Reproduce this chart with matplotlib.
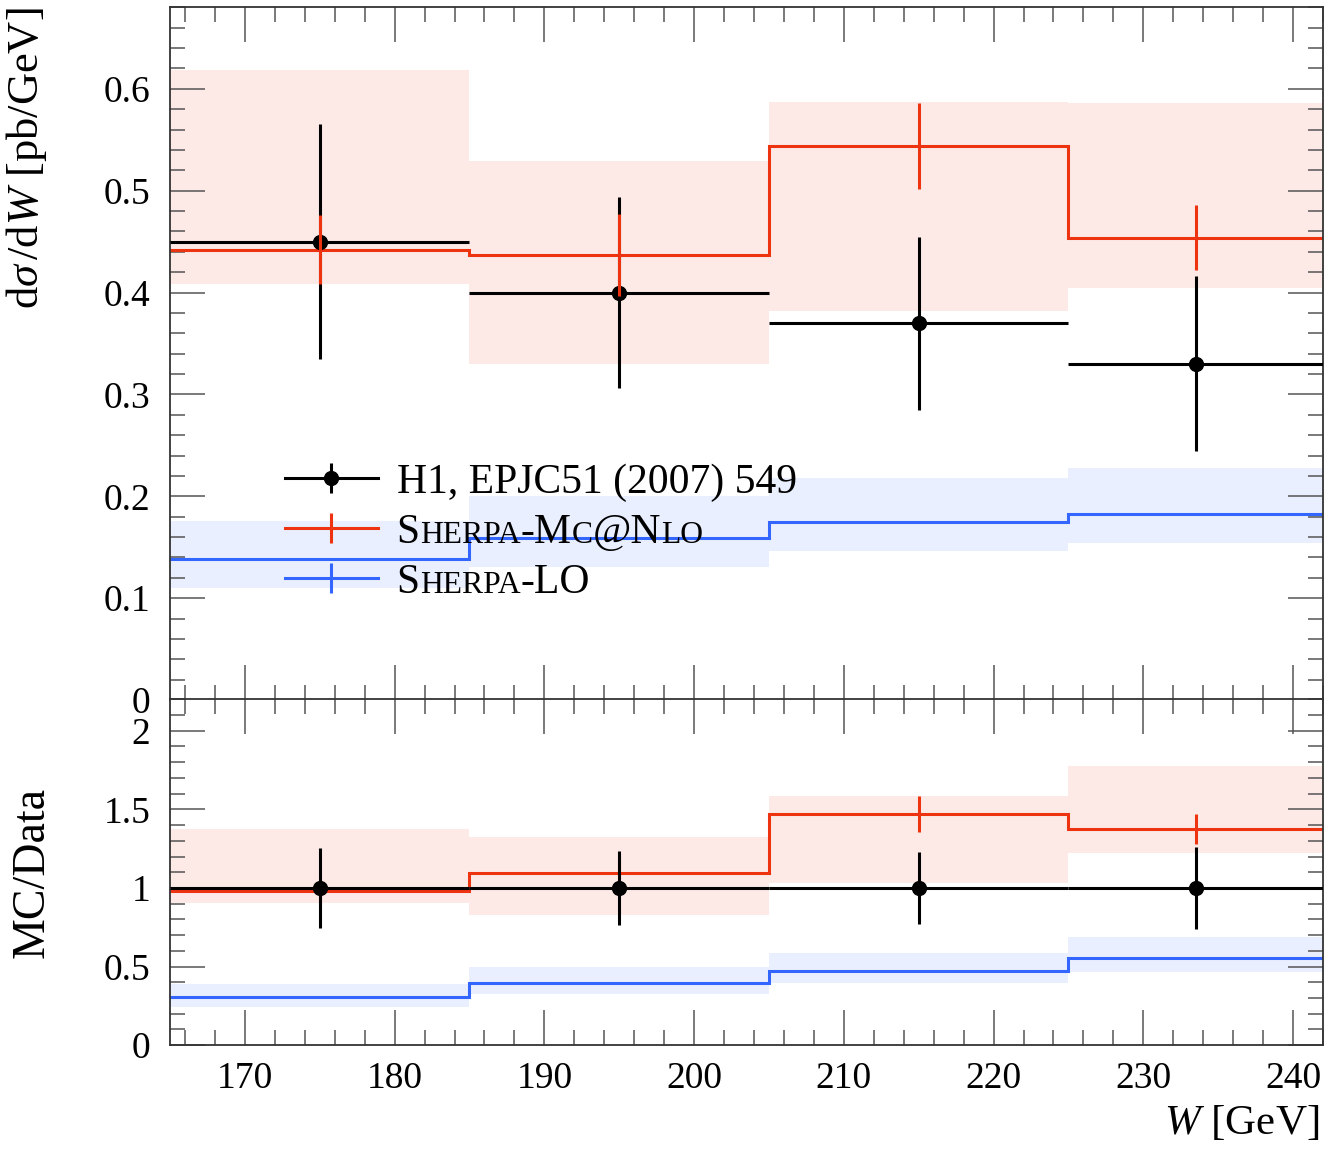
import matplotlib
matplotlib.use('Agg')
import matplotlib.pyplot as plt
import numpy as np
from matplotlib.lines import Line2D
from matplotlib.ticker import MultipleLocator, FixedLocator
from matplotlib.legend_handler import HandlerTuple

plt.rcParams['font.family'] = ['Liberation Serif', 'DejaVu Serif']
plt.rcParams['mathtext.fontset'] = 'custom'
plt.rcParams['mathtext.rm'] = 'Liberation Serif'
plt.rcParams['mathtext.it'] = 'Liberation Serif:italic'

# ---------------- data ----------------
bin_edges = [165, 185, 205, 225, 242]
x_centres = [175, 195, 215, 233.5]
data_y = [0.45, 0.40, 0.37, 0.33]
data_err = [0.115, 0.094, 0.085, 0.086]
nlo_y = [0.442, 0.437, 0.544, 0.454]
nlo_err = [0.034, 0.040, 0.042, 0.032]
nlo_band_lo = [0.408, 0.330, 0.382, 0.404]
nlo_band_hi = [0.618, 0.529, 0.587, 0.586]
lo_y = [0.138, 0.159, 0.175, 0.183]
lo_band_lo = [0.110, 0.131, 0.146, 0.154]
lo_band_hi = [0.176, 0.200, 0.218, 0.228]

main_yticks = [0, 0.1, 0.2, 0.3, 0.4, 0.5, 0.6]
main_yticklabels = ['0', '0.1', '0.2', '0.3', '0.4', '0.5', '0.6']
ratio_yticks = [0, 0.5, 1, 1.5, 2]
ratio_yticklabels = ['0', '0.5', '1', '1.5', '2']
xticks = [170, 180, 190, 200, 210, 220, 230, 240]
xticklabels = ['170', '180', '190', '200', '210', '220', '230', '240']

data_label = 'H1, EPJC51 (2007) 549'
nlo_pieces = [('S', False), ('HERPA', True), ('-M', False), ('C', True), ('@N', False), ('LO', True)]
lo_pieces = [('S', False), ('HERPA', True), ('-LO', False)]

RED = '#EE3311'
BLUE = '#3366FF'
BLACK = '#000000'

edges = np.array(bin_edges, dtype=float)
xc = np.array(x_centres)
xerr_lo = xc - edges[:-1]
xerr_hi = edges[1:] - xc
dy = np.array(data_y); de = np.array(data_err)
ny = np.array(nlo_y); ne = np.array(nlo_err)
nbl = np.array(nlo_band_lo); nbh = np.array(nlo_band_hi)
ly = np.array(lo_y); lbl = np.array(lo_band_lo); lbh = np.array(lo_band_hi)

W, H = 1328, 1149
fig = plt.figure(figsize=(W / 100, H / 100), dpi=100)
L = 170 / W
Rr = 1323 / W
ax = fig.add_axes([L, 1 - 700 / H, Rr - L, (700 - 7.3) / H])
axr = fig.add_axes([L, 1 - 1045.2 / H, Rr - L, (1045.2 - 699.3) / H])

LW = 2.2
FS = 27
for a in (ax, axr):
    a.set_xlim(bin_edges[0], bin_edges[-1])
    a.xaxis.set_major_locator(FixedLocator(xticks))
    a.xaxis.set_minor_locator(MultipleLocator(2))
    a.tick_params(which='both', direction='in', top=True, right=True,
                  color='#555555', width=1.1, labelsize=FS)
    a.tick_params(which='major', length=25)
    a.tick_params(which='minor', length=11)
    a.tick_params(axis='y', pad=14)
    a.tick_params(axis='x', pad=12)
    for s in a.spines.values():
        s.set_color('#333333')
        s.set_linewidth(1.3)

# ---------------- main panel ----------------
ax.set_ylim(0, 0.68)
ax.yaxis.set_major_locator(FixedLocator(main_yticks))
ax.yaxis.set_minor_locator(MultipleLocator(0.02))
ax.set_yticklabels(main_yticklabels)
ax.tick_params(axis='x', labelbottom=False)

ax.stairs(nbh, edges, baseline=nbl, fill=True, color=RED, alpha=0.1, lw=0, zorder=1)
ax.stairs(lbh, edges, baseline=lbl, fill=True, color=BLUE, alpha=0.1, lw=0, zorder=1)
ax.stairs(ny, edges, baseline=None, color=RED, lw=LW, zorder=2)
ax.stairs(ly, edges, baseline=None, color=BLUE, lw=LW, zorder=2)
ax.errorbar(xc, dy, yerr=de, xerr=[xerr_lo, xerr_hi], fmt='o', color=BLACK,
            ms=10, lw=LW, capsize=0, zorder=3)
ax.errorbar(xc, ny, yerr=ne, fmt='none', ecolor=RED, lw=LW, capsize=0, zorder=4)

ax.set_ylabel(r'd$\sigma\,$/d$W$ [pb/GeV]', fontsize=32, loc='top')
ax.yaxis.set_label_coords(-0.105, 1.0)

# legend
LFS = 30
h_data = (Line2D([], [], color=BLACK, lw=LW),
          Line2D([], [], color=BLACK, lw=0, marker='|', ms=22, mew=LW),
          Line2D([], [], color=BLACK, lw=0, marker='o', ms=10))
h_nlo = (Line2D([], [], color=RED, lw=LW),
         Line2D([], [], color=RED, lw=0, marker='|', ms=22, mew=LW))
h_lo = (Line2D([], [], color=BLUE, lw=LW),
        Line2D([], [], color=BLUE, lw=0, marker='|', ms=22, mew=LW))
leg = ax.legend([h_data, h_nlo, h_lo], [data_label, 'S', 'S'],
                handler_map={tuple: HandlerTuple(ndivide=1, pad=0)},
                loc='upper left', bbox_to_anchor=(0.0997, 0.342),
                frameon=False, fontsize=LFS, handlelength=2.23, handletextpad=0.45,
                labelspacing=0.28, borderpad=0, borderaxespad=0)

# ---------------- ratio panel ----------------
axr.set_ylim(0, 2.2)
axr.yaxis.set_major_locator(FixedLocator(ratio_yticks))
axr.yaxis.set_minor_locator(MultipleLocator(0.1))
axr.set_yticklabels(ratio_yticklabels)
axr.set_xticklabels(xticklabels)

axr.stairs(nbh / dy, edges, baseline=nbl / dy, fill=True, color=RED, alpha=0.1, lw=0, zorder=1)
axr.stairs(lbh / dy, edges, baseline=lbl / dy, fill=True, color=BLUE, alpha=0.1, lw=0, zorder=1)
axr.stairs(ny / dy, edges, baseline=None, color=RED, lw=LW, zorder=2)
axr.stairs(ly / dy, edges, baseline=None, color=BLUE, lw=LW, zorder=2)
axr.errorbar(xc, ny / dy, yerr=ne / dy, fmt='none', ecolor=RED, lw=LW, capsize=0, zorder=3)
axr.errorbar(xc, dy / dy, yerr=de / dy, xerr=[xerr_lo, xerr_hi], fmt='o', color=BLACK,
             ms=10, lw=LW, capsize=0, zorder=4)

axr.set_ylabel('MC/Data', fontsize=33)
axr.yaxis.set_label_coords(-0.101, 0.5)
axr.set_xlabel(r'$W$ [GeV]', fontsize=31, loc='right')
axr.xaxis.set_label_coords(0.997, -0.17)

# ---------------- small caps legend labels ----------------
BIG = LFS
SMALL = LFS * 0.76
fig.canvas.draw()
renderer = fig.canvas.get_renderer()
inv = fig.transFigure.inverted()
texts = leg.get_texts()
for t, pieces in ((texts[1], nlo_pieces), (texts[2], lo_pieces)):
    x0, y0 = t.get_transform().transform(t.get_position())
    t.set_text('')
    x = x0
    for s, small in pieces:
        fx, fy = inv.transform((x, y0))
        tt = fig.text(fx, fy, s, fontsize=SMALL if small else BIG, va='baseline', ha='left')
        x = tt.get_window_extent(renderer).x1

fig.savefig('out.png', dpi=100)
